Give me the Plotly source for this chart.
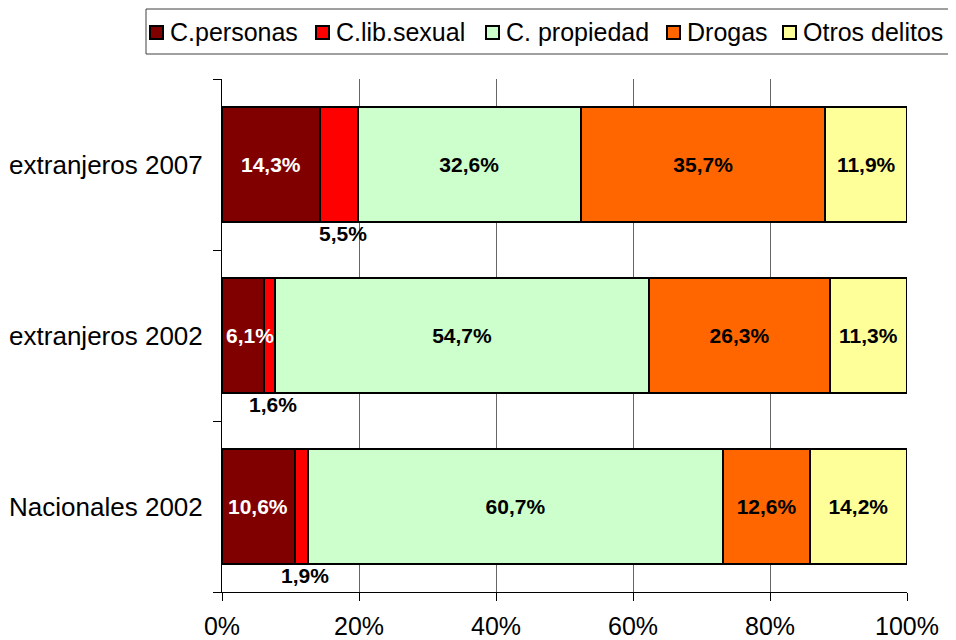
import plotly.graph_objects as go

categories = ['Nacionales 2002', 'extranjeros 2002', 'extranjeros 2007']
personas = [10.6, 6.1, 14.3]
lib_sexual = [1.9, 1.6, 5.5]
propiedad = [60.7, 54.7, 32.6]
drogas = [12.6, 26.3, 35.7]
otros = [14.2, 11.3, 11.9]

series = [
    ('C.personas', personas, '#800000', 'white'),
    ('C.lib.sexual', lib_sexual, '#FF0000', 'black'),
    ('C. propiedad', propiedad, '#CCFFCC', 'black'),
    ('Drogas', drogas, '#FF6600', 'black'),
    ('Otros delitos', otros, '#FFFF99', 'black'),
]

# page body has an 8px margin, so the figure starts at (8, 8) on screen
OFF = 8
W, H = 956, 640
L, T = 222 - OFF, 79 - OFF
PW, PH = 685, 513
R, B = W - L - PW, H - T - PH


def pct(v):
    return f'{v:.1f}%'.replace('.', ',')


def px(x):  # screen pixel -> paper x
    return (x - OFF - L) / PW


def py(y):  # screen pixel -> paper y
    return (T + PH - (y - OFF)) / PH


label_font = 'Liberation Sans'
label_size = 21

fig = go.Figure()
for name, vals, color, txtcolor in series:
    # first two series get their labels as annotations below
    show_text = name not in ('C.personas', 'C.lib.sexual')
    fig.add_trace(go.Bar(
        name=name, y=categories, x=vals, orientation='h',
        marker=dict(color=color, line=dict(color='black', width=2)),
        text=[pct(v) for v in vals] if show_text else None,
        textposition='inside', insidetextanchor='middle',
        constraintext='none', textangle=0,
        textfont=dict(family=label_font, size=label_size, color=txtcolor, weight='bold'),
    ))

# C.personas labels: centred, or starting at the axis when the bar is too thin
for cat, p in zip(categories, personas):
    thin = p < 8
    fig.add_annotation(
        x=0 if thin else p / 2, y=cat, text='<b>' + pct(p) + '</b>', showarrow=False,
        xanchor='left' if thin else 'center', xshift=2 if thin else 0,
        font=dict(family=label_font, size=label_size, color='white'),
    )

# C.lib.sexual labels sit below the bars
for cat, p, s in zip(categories, personas, lib_sexual):
    fig.add_annotation(
        x=p + s / 2, y=cat, text='<b>' + pct(s) + '</b>', showarrow=False,
        yshift=-69, xshift=4,
        font=dict(family=label_font, size=label_size, color='black'),
    )

# legend drawn by hand so it stays on one line like the original
fig.add_shape(type='rect', xref='paper', yref='paper',
              x0=px(146), x1=px(949), y0=py(54), y1=py(9),
              line=dict(color='#404040', width=1), fillcolor='white')
swatch_x = [150, 316, 486, 667, 783]
for (name, vals, color, _), sx in zip(series, swatch_x):
    fig.add_shape(type='rect', xref='paper', yref='paper',
                  x0=px(sx), x1=px(sx + 13), y0=py(39), y1=py(26),
                  line=dict(color='black', width=2), fillcolor=color)
    fig.add_annotation(x=px(sx + 18), y=py(32), xref='paper', yref='paper',
                       text=name, showarrow=False, xanchor='left', yanchor='middle',
                       font=dict(family=label_font, size=25, color='black'))

fig.update_layout(
    barmode='stack',
    bargap=0.333,
    width=W, height=H,
    margin=dict(l=L, r=R, t=T, b=B),
    plot_bgcolor='white', paper_bgcolor='white',
    font=dict(family='Liberation Sans, Arial', size=25, color='black'),
    showlegend=False,
)
fig.update_xaxes(
    range=[0, 100], tickvals=[0, 20, 40, 60, 80, 100],
    ticktext=['0%', '20%', '40%', '60%', '80%', '100%'],
    showgrid=True, gridcolor='#666666', gridwidth=1,
    showline=True, linecolor='black', linewidth=1,
    ticks='outside', ticklen=8, tickcolor='black',
    zeroline=False, ticklabelstandoff=4, automargin=False,
)
fig.update_yaxes(
    showline=True, linecolor='black', linewidth=1,
    ticks='outside', ticklen=8, tickcolor='black',
    tickson='boundaries', showgrid=False,
    ticklabelstandoff=13, automargin=False,
    tickfont=dict(size=26),
)

fig.write_html('out.html')
